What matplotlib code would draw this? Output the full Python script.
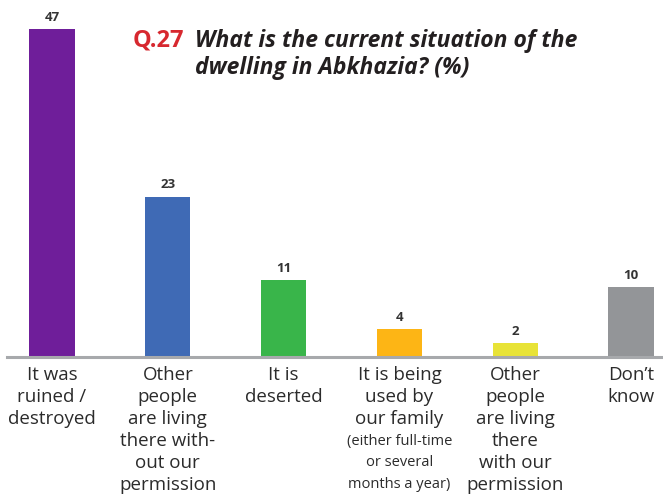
import matplotlib
matplotlib.use("Agg")
import matplotlib.pyplot as plt

values = [47, 23, 11, 4, 2, 10]
colors = ["#6F1E9A", "#3F6AB5", "#39B54A", "#FDB515", "#E8E337", "#939598"]
main_lines = [
    ["It was", "ruined /", "destroyed"],
    ["Other", "people", "are living", "there with-", "out our", "permission"],
    ["It is", "deserted"],
    ["It is being", "used by", "our family"],
    ["Other", "people", "are living", "there", "with our", "permission"],
    ["Don\u2019t", "know"],
]
small_lines = [[], [], [], ["(either full-time", "or several", "months a year)"], [], []]

W, H = 663, 499
fig = plt.figure(figsize=(W / 100, H / 100), dpi=100)
fam = ["Open Sans", "DejaVu Sans"]

base_px = 357
ax = fig.add_axes([7 / W, 1 - base_px / H, 1 - 7 / W, base_px / H])
x = list(range(len(values)))
ax.bar(x, values, width=0.39, color=colors, zorder=2)
ax.set_xlim(-0.389, 5.276)
ax.set_ylim(0, base_px / 6.97)
ax.axis("off")
ax.axhline(0, color="#A7A9AC", lw=2.2, zorder=3, clip_on=False)

for xi, v in zip(x, values):
    ax.annotate(str(v), (xi, v), xytext=(0, 4), textcoords="offset points",
                ha="center", va="bottom", fontsize=9.5, fontweight="bold",
                color="#333333", family=fam)

# category labels
for xi, (ml, sl) in enumerate(zip(main_lines, small_lines)):
    xf = ax.transData.transform((xi, 0))[0] / W
    yp = 375
    for line in ml:
        fig.text(xf, 1 - yp / H, line, ha="center", va="center", fontsize=13.5,
                 color="#2B2B2B", family=fam)
        yp += 22
    for line in sl:
        fig.text(xf, 1 - yp / H, line, ha="center", va="center", fontsize=10.5,
                 color="#2B2B2B", family=fam)
        yp += 22

fig.text(133 / W, 1 - 47 / H, "Q.27", ha="left", va="baseline", fontsize=17,
         fontweight="bold", color="#D7282F", family=fam)
fig.text(195 / W, 1 - 47 / H, "What is the current situation of the",
         ha="left", va="baseline", fontsize=16.5, fontweight="bold",
         style="italic", color="#231F20", family=fam)
fig.text(195 / W, 1 - 74 / H, "dwelling in Abkhazia? (%)",
         ha="left", va="baseline", fontsize=16.5, fontweight="bold",
         style="italic", color="#231F20", family=fam)

fig.savefig("out.png", dpi=100)
